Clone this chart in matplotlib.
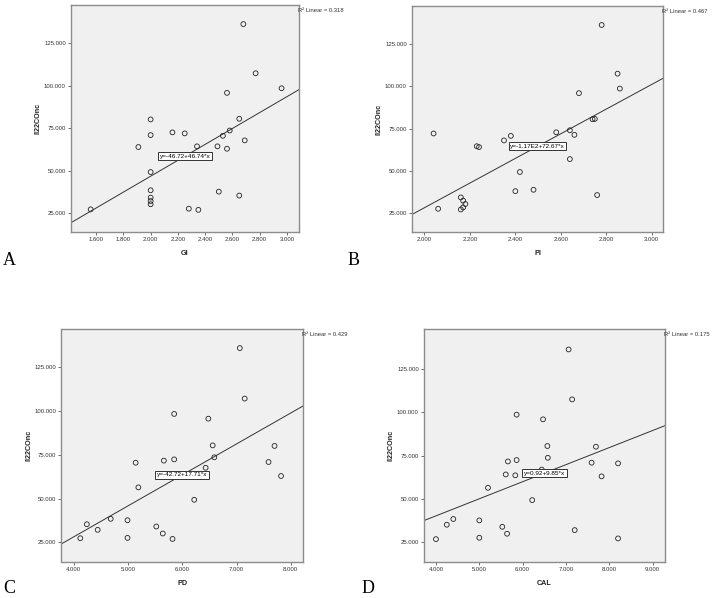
import numpy as np
import matplotlib
matplotlib.use("Agg")
import matplotlib.pyplot as plt

plt.rcParams["font.family"] = ["Liberation Sans", "DejaVu Sans"]

# ---- data ------------------------------------------------------------------
y_label = "il22COnc"

gi_x = [2.68, 2.77, 2.96, 2.56, 2.65, 2.00, 2.00, 2.16, 2.25, 2.53, 2.58, 1.91,
        2.34, 2.49, 2.56, 2.69, 2.00, 2.00, 2.00, 2.00, 2.00, 1.56, 2.28, 2.35,
        2.50, 2.65]
gi_y = [136.1, 107.2, 98.4, 95.7, 80.5, 80.1, 70.9, 72.5, 71.9, 70.5, 73.6, 63.9,
        64.3, 64.3, 62.9, 67.8, 49.2, 38.5, 34.2, 32.2, 30.3, 27.3, 27.7, 27.0,
        37.7, 35.4]

pi_x = [2.78, 2.85, 2.86, 2.68, 2.74, 2.75, 2.04, 2.58, 2.64, 2.66, 2.38, 2.35,
        2.23, 2.24, 2.64, 2.42, 2.40, 2.48, 2.76, 2.16, 2.17, 2.18, 2.17, 2.16,
        2.06]
pi_y = [136.1, 107.4, 98.6, 95.9, 80.5, 80.7, 72.1, 72.8, 74.0, 71.3, 70.7, 68.0,
        64.6, 64.1, 57.0, 49.4, 38.1, 38.9, 35.8, 34.4, 32.5, 30.5, 28.5, 27.3,
        27.7]

pd_x = [7.06, 7.15, 5.85, 6.48, 6.56, 7.70, 6.59, 5.66, 5.85, 5.14, 7.59, 6.43,
        7.82, 5.19, 6.22, 4.24, 4.44, 4.68, 4.99, 4.12, 4.99, 5.52, 5.64, 5.82]
pd_y = [136.1, 107.2, 98.4, 95.7, 80.4, 80.1, 73.6, 71.7, 72.4, 70.5, 70.9, 67.6,
        62.9, 56.4, 49.3, 35.3, 32.1, 38.4, 37.6, 27.3, 27.5, 34.0, 30.0, 26.9]

cal_x = [7.06, 7.14, 5.86, 6.47, 6.57, 7.69, 6.58, 5.66, 5.86, 7.59, 8.20, 5.61,
         5.83, 7.82, 5.20, 6.22, 4.25, 4.40, 5.00, 4.00, 5.00, 5.53, 5.64, 7.20,
         8.20, 6.44]
cal_y = [136.3, 107.5, 98.7, 96.0, 80.6, 80.2, 73.8, 71.7, 72.5, 71.0, 70.6, 64.2,
         63.7, 63.1, 56.5, 49.4, 35.2, 38.5, 37.7, 26.9, 27.7, 34.0, 30.0, 32.1,
         27.3, 67.0]

names = ["GI", "PI", "PD", "CAL"]
intercepts = [-46.72, -117.0, -42.72, 0.92]
slopes = [46.74, 72.67, 17.71, 9.85]
eq_texts = ["y=-46.72+46.74*x", "y=-1.17E2+72.67*x", "y=-42.72+17.71*x", "y=0.92+9.85*x"]
r2_values = ["0.318", "0.467", "0.429", "0.175"]
panel_letters = ["A", "B", "C", "D"]

x_ticks = [
    [1.6, 1.8, 2.0, 2.2, 2.4, 2.6, 2.8, 3.0],
    [2.0, 2.2, 2.4, 2.6, 2.8, 3.0],
    [4.0, 5.0, 6.0, 7.0, 8.0],
    [4.0, 5.0, 6.0, 7.0, 8.0, 9.0],
]
y_ticks = [25, 50, 75, 100, 125]

xs = [gi_x, pi_x, pd_x, cal_x]
ys = [gi_y, pi_y, pd_y, cal_y]

# ---- layout (pixels in a 715x598 figure) ----------------------------------
W, H = 715, 598
boxes = [  # left, right, top, bottom
    (71, 299, 5, 232),
    (412, 663, 6, 232),
    (61.5, 303, 329, 562),
    (424, 665, 329, 562),
]
x_lims = [(1.416, 3.088), (1.945, 3.050), (3.773, 8.225), (3.724, 9.283)]
y_lims = [(14.0, 147.3), (14.0, 147.3), (13.7, 147.0), (13.7, 148.1)]
letter_pos = [(3, 265), (348, 265), (3, 593), (362, 593)]

fig = plt.figure(figsize=(W / 100, H / 100), dpi=100)

for i in range(4):
    l, r, t, b = boxes[i]
    ax = fig.add_axes([l / W, 1 - b / H, (r - l) / W, (b - t) / H])
    ax.set_facecolor("#f0f0f0")
    for s in ax.spines.values():
        s.set_color("#8c8c8c")
        s.set_linewidth(1.0)

    ax.scatter(xs[i], ys[i], s=12, facecolors="none", edgecolors="#222222",
               linewidths=0.6, zorder=3)

    x0, x1 = x_lims[i]
    lx = np.array([x0, x1])
    ax.plot(lx, intercepts[i] + slopes[i] * lx, color="#333333", lw=0.7, zorder=2)

    xm = (x0 + x1) / 2
    ax.text(xm, intercepts[i] + slopes[i] * xm, eq_texts[i], fontsize=4.6,
            ha="center", va="center", zorder=4,
            bbox=dict(boxstyle="square,pad=0.25", fc="white", ec="#333333", lw=0.7))

    ax.text(0.995, 0.975, "R² Linear = " + r2_values[i], transform=ax.transAxes,
            fontsize=4.2, ha="left", va="center", color="#333333")

    ax.set_xlim(x0, x1)
    ax.set_ylim(*y_lims[i])
    ax.set_xticks(x_ticks[i])
    ax.set_xticklabels([f"{v:.3f}" for v in x_ticks[i]])
    ax.set_yticks(y_ticks)
    ax.set_yticklabels([f"{v:.3f}" for v in y_ticks])
    ax.tick_params(direction="out", length=2.2, width=0.6, color="#555555",
                   labelsize=4.3, labelcolor="#333333", pad=1.5)
    ax.set_xlabel(names[i], fontsize=5.2, fontweight="bold", labelpad=6,
                  color="#222222")
    ax.set_ylabel(y_label, fontsize=5.2, fontweight="bold", labelpad=1.5,
                  color="#222222")

    px, py = letter_pos[i]
    fig.text(px / W, 1 - py / H, panel_letters[i], fontsize=13,
             family="Liberation Serif", va="baseline", ha="left")

fig.savefig("out.png", dpi=100)
